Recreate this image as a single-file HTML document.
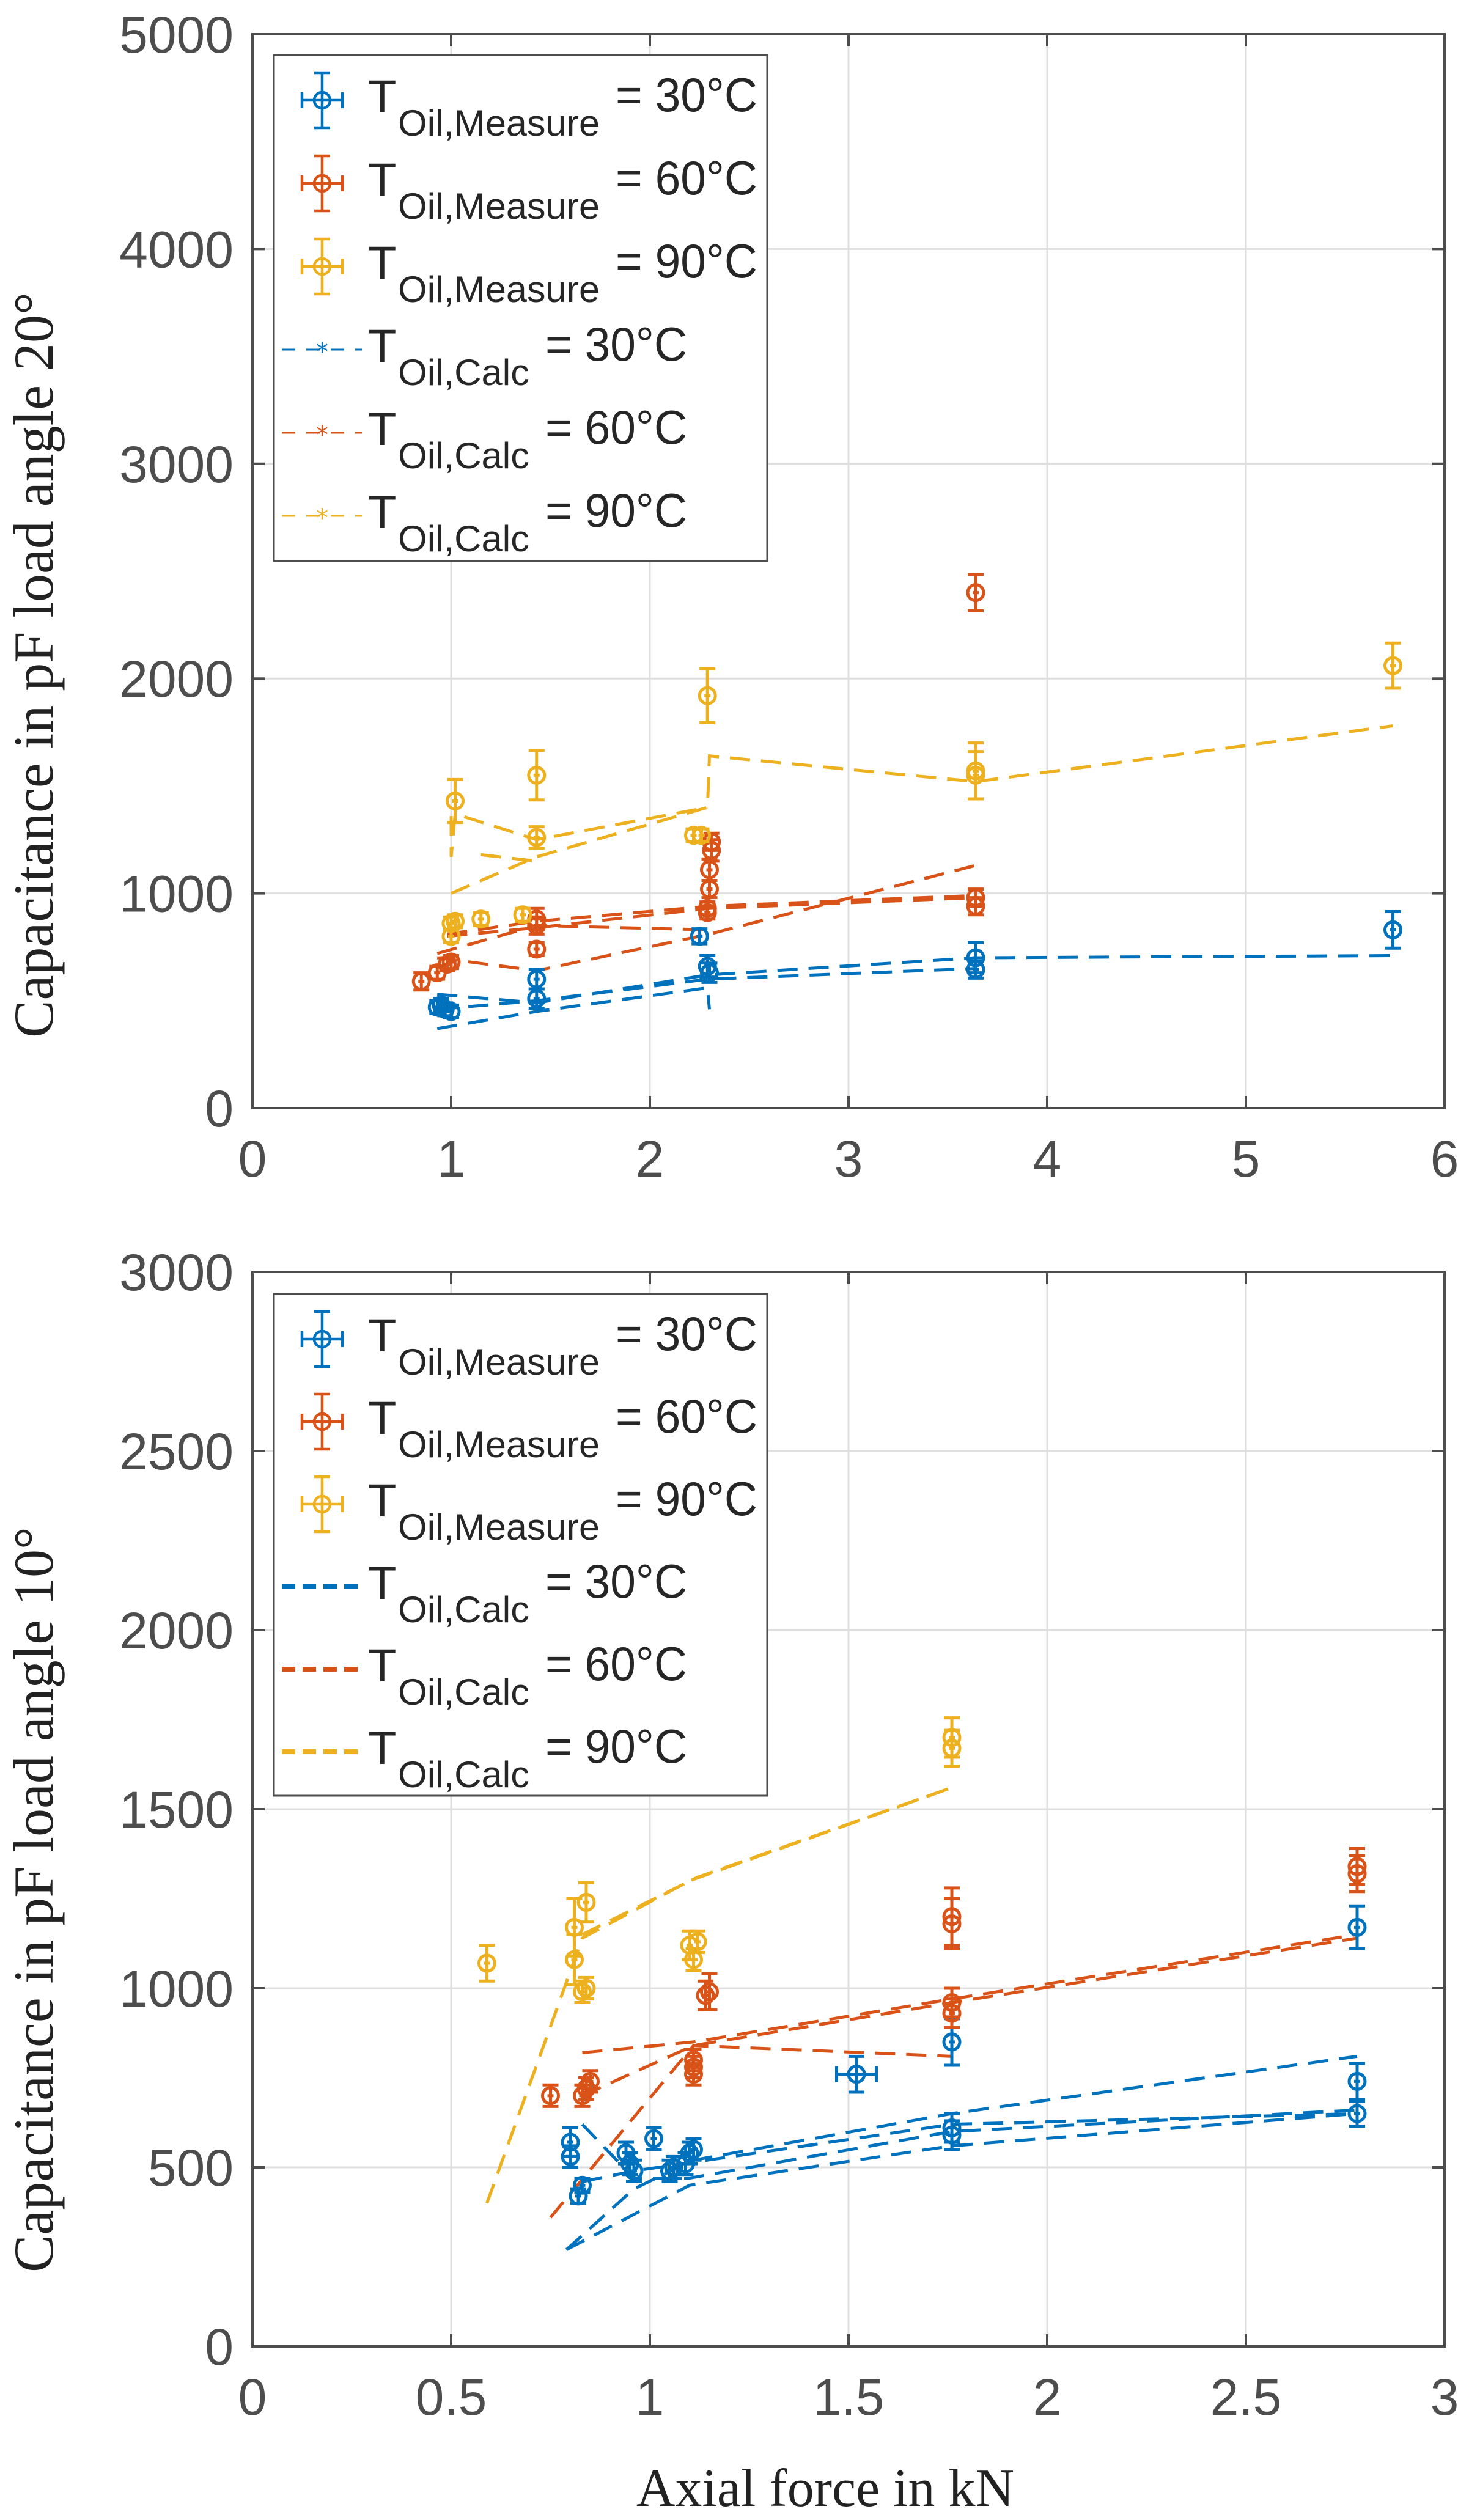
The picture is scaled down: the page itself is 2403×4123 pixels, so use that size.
<!DOCTYPE html>
<html><head><meta charset="utf-8"><style>
html,body{margin:0;padding:0;background:#fff;}
svg{display:block;}
</style></head><body>
<svg id="chart" width="2403" height="4123" viewBox="0 0 2403 4123" xmlns="http://www.w3.org/2000/svg"></svg>
<script>
// ===== Top plot data (load angle 20°) =====
const topXTicks = [0,1,2,3,4,5,6];
const topYTicks = [0,1000,2000,3000,4000,5000];
const topBlueX = [0.93,0.95,0.97,1.0,1.43,1.43,2.25,2.29,2.30,3.64,3.64,5.74];
const topBlueY = [470,480,460,450,600,510,800,660,630,700,645,830];
const topBlueErr = [30,30,30,30,45,45,35,50,45,70,40,85];
const topRedX = [0.85,0.93,0.98,1.0,1.43,1.43,1.43,2.29,2.29,2.30,2.30,2.31,2.31,3.64,3.64,3.64];
const topRedY = [590,630,670,680,880,850,740,910,930,1020,1110,1200,1240,2400,980,940];
const topRedErr = [40,30,30,30,50,40,30,30,30,40,50,50,40,85,40,40];
const topYelX = [1.0,1.0,1.02,1.02,1.15,1.36,1.43,1.43,2.22,2.26,2.29,3.64,3.64,5.74];
const topYelY = [800,860,870,1430,880,900,1550,1260,1270,1270,1920,1570,1550,2060];
const topYelErr = [30,30,30,100,30,30,115,50,30,30,125,130,110,105];
const topCalcBlue = [
  [[0.93,370],[1.43,450],[2.29,560],[2.30,460]],
  [[0.93,530],[1.43,490],[2.29,620],[3.64,700],[5.74,710]],
  [[0.93,460],[1.43,500],[2.29,600],[3.64,650]]
];
const topCalcRed = [
  [[0.93,700],[1.43,640],[2.30,810],[3.64,1130]],
  [[0.93,720],[1.43,850],[2.30,830]],
  [[0.98,800],[1.43,840],[2.30,930],[3.64,980]],
  [[0.98,810],[1.43,870],[2.30,940],[3.64,990]]
];
const topCalcYel = [
  [[1.0,1000],[1.43,1170],[2.29,1400],[2.30,1640],[3.64,1520],[5.74,1780]],
  [[1.0,1360],[1.0,1170],[1.02,1370],[1.43,1250],[2.29,1400]],
  [[1.15,1180],[1.43,1150]]
];
// ===== Bottom plot data (load angle 10°) =====
const botXTicks = [0,0.5,1,1.5,2,2.5,3];
const botYTicks = [0,500,1000,1500,2000,2500,3000];
const botBlueX = [0.80,0.80,0.82,0.83,0.94,0.95,0.96,1.01,1.05,1.06,1.09,1.10,1.11,1.52,1.76,1.76,1.76,2.78,2.78,2.78];
const botBlueY = [570,530,420,450,540,510,490,580,490,500,510,540,550,760,850,610,590,1170,740,650];
const botBlueErr = [40,30,20,20,30,30,30,30,30,30,30,30,30,50,65,40,40,60,50,35];
const botBlueXErr = [0,0,0,0,0,0,0,0,0,0,0,0,0,0.05,0,0,0,0,0,0];
const botRedX = [0.75,0.83,0.84,0.85,1.11,1.11,1.11,1.15,1.14,1.76,1.76,1.76,1.76,2.78,2.78];
const botRedY = [700,700,720,740,800,780,760,990,980,1200,1180,960,930,1340,1320];
const botRedErr = [30,30,30,30,30,30,30,50,40,80,70,40,40,50,50];
const botYelX = [0.59,0.81,0.81,0.84,0.84,0.83,1.10,1.12,1.11,1.76,1.76];
const botYelY = [1070,1170,1080,1240,1000,990,1120,1130,1080,1700,1670];
const botYelErr = [50,80,70,55,30,30,40,30,30,55,50];
const botCalcBlue = [
  [[0.79,270],[0.96,440],[1.11,520],[1.76,650],[2.78,810]],
  [[0.79,270],[1.10,450],[1.76,560],[2.78,650]],
  [[0.83,460],[0.96,490],[1.76,620],[2.78,650]],
  [[0.83,620],[0.96,470],[1.10,470],[1.76,600],[2.78,660]]
];
const botCalcRed = [
  [[0.75,360],[1.11,840],[1.76,810]],
  [[0.83,820],[1.11,850],[1.76,970],[2.78,1150]],
  [[0.83,700],[1.11,840],[1.76,960],[2.78,1140]]
];
const botCalcYel = [
  [[0.59,400],[0.83,1140],[1.10,1300],[1.76,1560]],
  [[0.83,1150],[1.12,1310],[1.76,1560]]
];

const NS='http://www.w3.org/2000/svg';
const svg=document.getElementById('chart');
const BLUE='#0072BD',RED='#D95319',YEL='#EDB120',AX='#4d4d4d';
function mk(tag,attrs,parent){const e=document.createElementNS(NS,tag);for(const k in attrs)e.setAttribute(k,attrs[k]);(parent||svg).appendChild(e);return e;}

function drawPlot(cfg){
  const g=mk('g',{});
  
  
  const L=413,R=2363,T=cfg.top,B=cfg.bottom;
  const sx=v=>L+(v-cfg.xmin)/(cfg.xmax-cfg.xmin)*(R-L);
  const sy=v=>B-(v-cfg.ymin)/(cfg.ymax-cfg.ymin)*(B-T);
  cfg.xt.forEach(t=>{const l=mk('line',{x1:sx(t),x2:sx(t),y1:T,y2:B,stroke:'#dfdfdf','stroke-width':3},g);});
  cfg.yt.forEach(t=>{const l=mk('line',{x1:L,x2:R,y1:sy(t),y2:sy(t),stroke:'#dfdfdf','stroke-width':3},g);});
  const drawCalc=(arr,col,nm)=>arr.forEach(seg=>{
    const p=mk('polyline',{points:seg.map(q=>sx(q[0])+','+sy(q[1])).join(' '),fill:'none',stroke:col,'stroke-width':5,'stroke-dasharray':'33 18'},g);
    
    
  });
  drawCalc(cfg.cb,BLUE,'calc-line-30c');drawCalc(cfg.cr,RED,'calc-line-60c');drawCalc(cfg.cy,YEL,'calc-line-90c');
  const drawMeas=(xs,ys,es,col,nm,xe)=>xs.forEach((x,i)=>{
    const mg=mk('g',{stroke:col,'stroke-width':5,fill:'none'},g);
    
    
    const cx=sx(x),cy=sy(ys[i]),y1=sy(ys[i]+es[i]),y2=sy(ys[i]-es[i]);
    mk('line',{x1:cx,x2:cx,y1:y1,y2:y2},mg);
    mk('line',{x1:cx-13,x2:cx+13,y1:y1,y2:y1},mg);
    mk('line',{x1:cx-13,x2:cx+13,y1:y2,y2:y2},mg);
    const dx=xe?xe[i]:0;
    if(dx>0){const a=sx(x-dx),b=sx(x+dx);mk('line',{x1:a,x2:b,y1:cy,y2:cy},mg);mk('line',{x1:a,x2:a,y1:cy-13,y2:cy+13},mg);mk('line',{x1:b,x2:b,y1:cy-13,y2:cy+13},mg);}
    else{mk('line',{x1:cx-5,x2:cx+5,y1:cy,y2:cy},mg);}
    mk('circle',{cx:cx,cy:cy,r:13},mg);
  });
  drawMeas(cfg.bx,cfg.by,cfg.be,BLUE,'measured-point-30c',cfg.bxe);
  drawMeas(cfg.rx,cfg.ry,cfg.re,RED,'measured-point-60c');
  drawMeas(cfg.yx,cfg.yy,cfg.ye,YEL,'measured-point-90c');
  const box=mk('rect',{x:L,y:T,width:R-L,height:B-T,fill:'none',stroke:AX,'stroke-width':4},g);
  
  cfg.xt.forEach(t=>{
    mk('line',{x1:sx(t),x2:sx(t),y1:B,y2:B-20,stroke:AX,'stroke-width':4},g);
    mk('line',{x1:sx(t),x2:sx(t),y1:T,y2:T+20,stroke:AX,'stroke-width':4},g);
    const tx=mk('text',{x:sx(t),y:B+112,'text-anchor':'middle','font-family':'Liberation Sans, sans-serif','font-size':84,fill:AX},g);
    tx.textContent=String(t);
    
  });
  cfg.yt.forEach(t=>{
    mk('line',{x1:L,x2:L+20,y1:sy(t),y2:sy(t),stroke:AX,'stroke-width':4},g);
    mk('line',{x1:R,x2:R-20,y1:sy(t),y2:sy(t),stroke:AX,'stroke-width':4},g);
    const tx=mk('text',{x:382,y:sy(t)+30,'text-anchor':'end','font-family':'Liberation Sans, sans-serif','font-size':84,fill:AX},g);
    tx.textContent=String(t);
    
  });
  const yt=mk('text',{x:0,y:0,transform:'translate(86,'+cfg.ylabY+') rotate(-90)','text-anchor':'middle','font-family':'Liberation Serif, serif','font-size':92,fill:'#222'},g);
  yt.textContent=cfg.ylabel;
  
  const lg=mk('g',{},g);
  
  mk('rect',{x:448,y:cfg.legTop,width:807,height:cfg.legBot-cfg.legTop,fill:'#fff',stroke:AX,'stroke-width':3},lg);
  const cols=[BLUE,RED,YEL],temps=['30','60','90'];
  for(let i=0;i<6;i++){
    const ry=cfg.legTop+74+i*cfg.legStep;
    const col=cols[i%3];
    const eg=mk('g',{},lg);
    
    if(i<3){
      const mg=mk('g',{stroke:col,'stroke-width':4.5,fill:'none'},eg);
      mk('line',{x1:527,x2:527,y1:ry-45,y2:ry+45},mg);mk('line',{x1:514,x2:540,y1:ry-45,y2:ry-45},mg);mk('line',{x1:514,x2:540,y1:ry+45,y2:ry+45},mg);
      mk('line',{x1:494,x2:560,y1:ry,y2:ry},mg);mk('line',{x1:494,x2:494,y1:ry-13,y2:ry+13},mg);mk('line',{x1:560,x2:560,y1:ry-13,y2:ry+13},mg);
      mk('circle',{cx:527,cy:ry,r:13},mg);
    } else {
      if(cfg.thickLeg){mk('line',{x1:461,x2:592,y1:ry,y2:ry,stroke:col,'stroke-width':8,'stroke-dasharray':'22 12'},eg);}
      else{mk('line',{x1:461,x2:592,y1:ry,y2:ry,stroke:col,'stroke-width':3,'stroke-dasharray':'22 18'},eg);
        const st=mk('text',{x:527,y:ry+17,'text-anchor':'middle','font-family':'DejaVu Sans, sans-serif','font-size':40,fill:col},eg);st.textContent='*';}
    }
    const t=mk('text',{x:602,y:ry+20,'font-family':'Liberation Sans, sans-serif','font-size':76,fill:'#262626'},eg);
    t.textContent='T';
    const s=mk('text',{x:651,y:ry+58,'font-family':'Liberation Sans, sans-serif','font-size':60,fill:'#262626',textLength:i<3?330:215,lengthAdjust:'spacingAndGlyphs'},eg);
    s.textContent=i<3?'Oil,Measure':'Oil,Calc';
    const e=mk('text',{x:i<3?1007:892,y:ry+18,'font-family':'Liberation Sans, sans-serif','font-size':78,fill:'#262626',textLength:232,lengthAdjust:'spacingAndGlyphs'},eg);
    e.textContent='= '+temps[i%3]+'°C';
  }
}
drawPlot({name:'top-chart',top:56,bottom:1813,xmin:0,xmax:6,ymin:0,ymax:5000,xt:topXTicks,yt:topYTicks,
  bx:topBlueX,by:topBlueY,be:topBlueErr,rx:topRedX,ry:topRedY,re:topRedErr,yx:topYelX,yy:topYelY,ye:topYelErr,
  cb:topCalcBlue,cr:topCalcRed,cy:topCalcYel,ylabel:'Capacitance in pF load angle 20°',ylabY:1088,legTop:90,legBot:918,legStep:136,thickLeg:false});
drawPlot({name:'bottom-chart',top:2081,bottom:3839,xmin:0,xmax:3,ymin:0,ymax:3000,xt:botXTicks,yt:botYTicks,
  bx:botBlueX,by:botBlueY,be:botBlueErr,bxe:botBlueXErr,rx:botRedX,ry:botRedY,re:botRedErr,yx:botYelX,yy:botYelY,ye:botYelErr,
  cb:botCalcBlue,cr:botCalcRed,cy:botCalcYel,ylabel:'Capacitance in pF load angle 10°',ylabY:3108,legTop:2117,legBot:2938,legStep:135,thickLeg:true});
const xl=mk('text',{x:1350,y:4100,'text-anchor':'middle','font-family':'Liberation Serif, serif','font-size':88,fill:'#222'});
xl.textContent='Axial force in kN';


</script>
</body></html>
